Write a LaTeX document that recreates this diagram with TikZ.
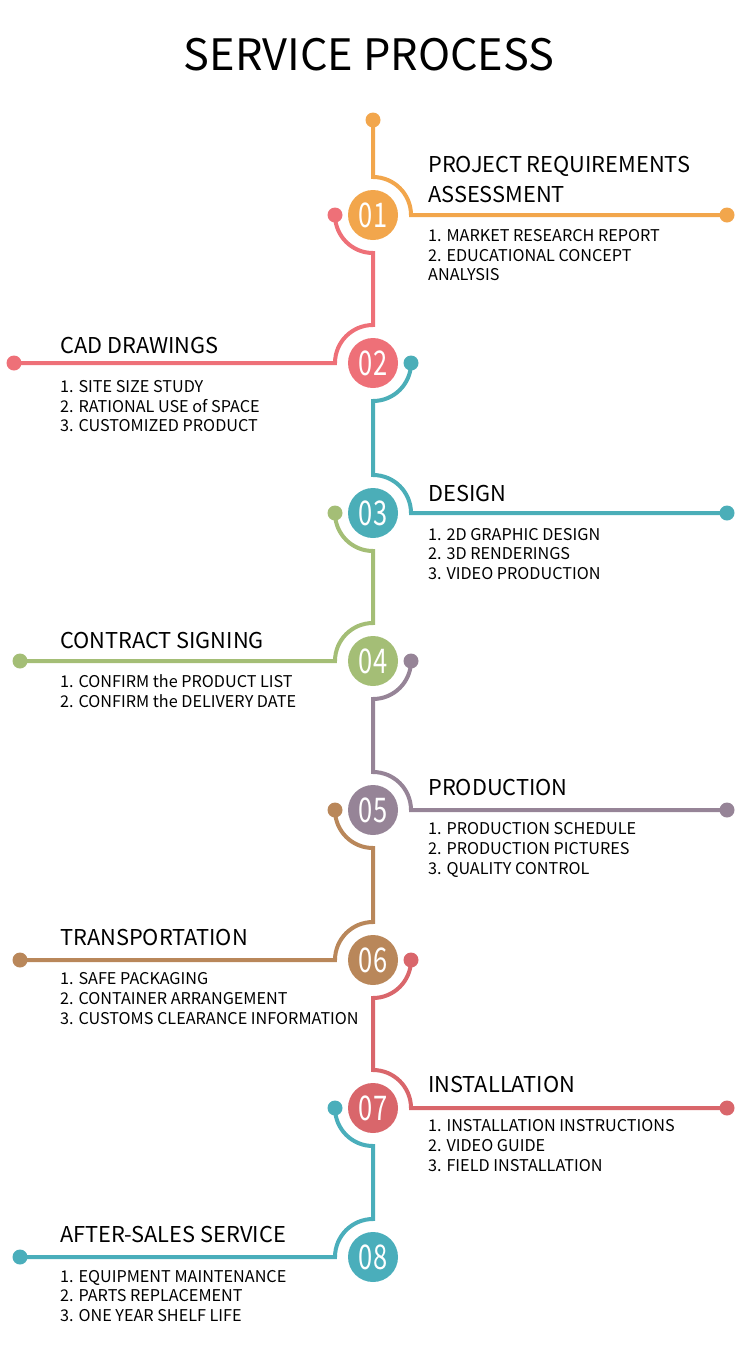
\documentclass[tikz,border=0pt]{standalone}
\usepackage{fontspec}
\setmainfont{Noto Sans CJK SC}
\definecolor{cA}{HTML}{F2A64C}
\definecolor{cB}{HTML}{EE7078}
\definecolor{cC}{HTML}{4BAEB8}
\definecolor{cD}{HTML}{A4BE76}
\definecolor{cE}{HTML}{968497}
\definecolor{cF}{HTML}{B9875A}
\definecolor{cG}{HTML}{D9666B}
\definecolor{cH}{HTML}{4AAEBB}
\tikzset{
  num/.style={circle, fill=#1, minimum size=50pt, inner sep=0pt, text=white,
    font=\fontsize{34}{34}\selectfont},
  link/.style={draw=#1, line width=4pt},
  head/.style={anchor=base west, inner sep=0pt, font=\fontsize{21.8}{24}\selectfont},
  item/.style={anchor=base west, inner sep=0pt, font=\fontsize{16.2}{18}\selectfont},
}
\newcommand{\dig}[1]{\scalebox{0.75}[1]{#1}}
\begin{document}
\begin{tikzpicture}[x=1pt,y=1pt]
\useasboundingbox (0,0) rectangle (750,-1345);
\def\R{38}
\def\cx{373}
% title
\node[anchor=base, inner sep=0pt, font=\fontsize{43.3}{48}\selectfont] (title) at (369,-70) {SERVICE PROCESS};

% step 01 (orange)
\coordinate (d1a) at (\cx,-120);
\coordinate (d1b) at (727,-215);
\draw[link=cA] (d1a) -- (\cx,-215+\R) arc[start angle=90,end angle=0,radius=\R] -- (d1b);
\fill[cA] (d1a) circle (7.5);
\fill[cA] (d1b) circle (7.5);

% step 02 (red)
\coordinate (d2a) at (\cx-\R,-215);
\coordinate (d2b) at (14,-363);
\draw[link=cB] (d2a) arc[start angle=180,end angle=270,radius=\R] -- (\cx,-363+\R) arc[start angle=90,end angle=180,radius=\R] -- (d2b);
\fill[cB] (d2a) circle (7.5);
\fill[cB] (d2b) circle (7.5);

% step 03 (teal)
\coordinate (d3a) at (\cx+\R,-363);
\coordinate (d3b) at (727,-513);
\draw[link=cC] (d3a) arc[start angle=0,end angle=-90,radius=\R] -- (\cx,-513+\R) arc[start angle=90,end angle=0,radius=\R] -- (d3b);
\fill[cC] (d3a) circle (7.5);
\fill[cC] (d3b) circle (7.5);

% step 04 (green)
\coordinate (d4a) at (\cx-\R,-513);
\coordinate (d4b) at (20,-661);
\draw[link=cD] (d4a) arc[start angle=180,end angle=270,radius=\R] -- (\cx,-661+\R) arc[start angle=90,end angle=180,radius=\R] -- (d4b);
\fill[cD] (d4a) circle (7.5);
\fill[cD] (d4b) circle (7.5);

% step 05 (purple)
\coordinate (d5a) at (\cx+\R,-661);
\coordinate (d5b) at (727,-810);
\draw[link=cE] (d5a) arc[start angle=0,end angle=-90,radius=\R] -- (\cx,-810+\R) arc[start angle=90,end angle=0,radius=\R] -- (d5b);
\fill[cE] (d5a) circle (7.5);
\fill[cE] (d5b) circle (7.5);

% step 06 (brown)
\coordinate (d6a) at (\cx-\R,-810);
\coordinate (d6b) at (20,-960);
\draw[link=cF] (d6a) arc[start angle=180,end angle=270,radius=\R] -- (\cx,-960+\R) arc[start angle=90,end angle=180,radius=\R] -- (d6b);
\fill[cF] (d6a) circle (7.5);
\fill[cF] (d6b) circle (7.5);

% step 07 (red)
\coordinate (d7a) at (\cx+\R,-960);
\coordinate (d7b) at (727,-1108);
\draw[link=cG] (d7a) arc[start angle=0,end angle=-90,radius=\R] -- (\cx,-1108+\R) arc[start angle=90,end angle=0,radius=\R] -- (d7b);
\fill[cG] (d7a) circle (7.5);
\fill[cG] (d7b) circle (7.5);

% step 08 (teal)
\coordinate (d8a) at (\cx-\R,-1108);
\coordinate (d8b) at (20,-1257);
\draw[link=cH] (d8a) arc[start angle=180,end angle=270,radius=\R] -- (\cx,-1257+\R) arc[start angle=90,end angle=180,radius=\R] -- (d8b);
\fill[cH] (d8a) circle (7.5);
\fill[cH] (d8b) circle (7.5);

% circles
\node[num=cA] (n1) at (\cx,-215) {\dig{01}};
\node[num=cB] (n2) at (\cx,-363) {\dig{02}};
\node[num=cC] (n3) at (\cx,-513) {\dig{03}};
\node[num=cD] (n4) at (\cx,-661) {\dig{04}};
\node[num=cE] (n5) at (\cx,-810) {\dig{05}};
\node[num=cF] (n6) at (\cx,-960) {\dig{06}};
\node[num=cG] (n7) at (\cx,-1108) {\dig{07}};
\node[num=cH] (n8) at (\cx,-1257) {\dig{08}};

% texts
\node[head] (h1a) at (428,-172) {PROJECT REQUIREMENTS};
\node[head] (h1b) at (428,-202) {ASSESSMENT};
\node[item] (i1a) at (428,-241) {1. MARKET RESEARCH REPORT};
\node[item] (i1b) at (428,-261) {2. EDUCATIONAL CONCEPT};
\node[item] (i1c) at (428,-280) {ANALYSIS};

\node[head] (h2) at (60,-353) {CAD DRAWINGS};
\node[item] (i2a) at (60,-392) {1. SITE SIZE STUDY};
\node[item] (i2b) at (60,-412) {2. RATIONAL USE of SPACE};
\node[item] (i2c) at (60,-431) {3. CUSTOMIZED PRODUCT};

\node[head] (h3) at (428,-501) {DESIGN};
\node[item] (i3a) at (428,-540) {1. 2D GRAPHIC DESIGN};
\node[item] (i3b) at (428,-559) {2. 3D RENDERINGS};
\node[item] (i3c) at (428,-579) {3. VIDEO PRODUCTION};

\node[head] (h4) at (60,-648) {CONTRACT SIGNING};
\node[item] (i4a) at (60,-687) {1. CONFIRM the PRODUCT LIST};
\node[item] (i4b) at (60,-707) {2. CONFIRM the DELIVERY DATE};

\node[head] (h5) at (428,-795) {PRODUCTION};
\node[item] (i5a) at (428,-834) {1. PRODUCTION SCHEDULE};
\node[item] (i5b) at (428,-854) {2. PRODUCTION PICTURES};
\node[item] (i5c) at (428,-874) {3. QUALITY CONTROL};

\node[head] (h6) at (60,-945) {TRANSPORTATION};
\node[item] (i6a) at (60,-984) {1. SAFE PACKAGING};
\node[item] (i6b) at (60,-1004) {2. CONTAINER ARRANGEMENT};
\node[item] (i6c) at (60,-1024) {3. CUSTOMS CLEARANCE INFORMATION};

\node[head] (h7) at (428,-1092) {INSTALLATION};
\node[item] (i7a) at (428,-1131) {1. INSTALLATION INSTRUCTIONS};
\node[item] (i7b) at (428,-1151) {2. VIDEO GUIDE};
\node[item] (i7c) at (428,-1171) {3. FIELD INSTALLATION};

\node[head] (h8) at (60,-1242) {AFTER-SALES SERVICE};
\node[item] (i8a) at (60,-1282) {1. EQUIPMENT MAINTENANCE};
\node[item] (i8b) at (60,-1301) {2. PARTS REPLACEMENT};
\node[item] (i8c) at (60,-1321) {3. ONE YEAR SHELF LIFE};
\end{tikzpicture}
\end{document}
